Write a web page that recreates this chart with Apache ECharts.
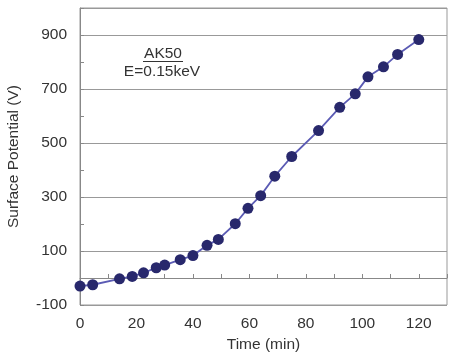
<!DOCTYPE html>
<html>
<head>
<meta charset="utf-8">
<script src="https://cdn.jsdelivr.net/npm/echarts@6/dist/echarts.min.js"></script>
<style>html,body{margin:0;padding:0;background:#fff;}#c{width:449px;height:359px;}</style>
</head>
<body>
<div id="c"></div>
<script>
var times = [0, 4.5, 14, 18.5, 22.5, 27, 30, 35.5, 40, 45, 49, 55, 59.5, 64, 69, 75, 84.5, 92, 97.5, 102, 107.5, 112.5, 120];
var potentials = [-30, -25, -3, 6, 19, 38, 48, 68, 83, 121, 143, 201, 258, 305, 377, 450, 546, 632, 682, 745, 782, 828, 883];
var xTitle = 'Time (min)';
var yTitle = 'Surface Potential (V)';
var sampleName = 'AK50';
var energyLabel = 'E=0.15keV';

var chart = echarts.init(document.getElementById('c'));
var font = 'Liberation Sans, Arial, sans-serif';
var fs = 15.5;
chart.setOption({
  animation: false,
  grid: {left: 80, right: 2, top: 8, bottom: 54, show: true, borderColor: '#999', borderWidth: 1,
    backgroundColor: 'transparent', outerBoundsMode: 'none', containLabel: false},
  xAxis: {
    type: 'value', min: 0, max: 130, interval: 20,
    name: xTitle, nameLocation: 'middle', nameGap: 32,
    nameTextStyle: {fontFamily: font, fontSize: fs, color: '#333'},
    axisLine: {show: true, lineStyle: {color: '#888'}},
    axisTick: {show: true, inside: true, length: 4, lineStyle: {color: '#888'}},
    minorTick: {show: true, splitNumber: 2, length: 4, lineStyle: {color: '#888'}},
    splitLine: {show: false},
    axisLabel: {fontFamily: font, fontSize: fs, color: '#333', margin: 11,
      formatter: function (v) { return v > 120 ? '' : v; }}
  },
  yAxis: {
    type: 'value', min: -100, max: 1000, interval: 200,
    name: yTitle, nameLocation: 'middle', nameGap: 58, nameRotate: 90,
    nameTextStyle: {fontFamily: font, fontSize: fs, color: '#333'},
    axisLine: {show: true, lineStyle: {color: '#888'}},
    axisTick: {show: true, inside: true, length: 4, lineStyle: {color: '#888'}},
    minorTick: {show: true, splitNumber: 2, length: 4, lineStyle: {color: '#888'}},
    splitLine: {show: true, lineStyle: {color: '#999', width: 1}},
    axisLabel: {fontFamily: font, fontSize: fs, color: '#333', margin: 13,
      formatter: function (v) { return v > 900 ? '' : v; }}
  },
  series: [{
    type: 'line',
    data: times.map(function (t, i) { return [t, potentials[i]]; }),
    symbol: 'circle', symbolSize: 11,
    lineStyle: {color: '#5b5bb4', width: 1.8},
    itemStyle: {color: '#28286c'}
  }],
  graphic: [
    {type: 'text', x: 163, y: 46, style: {text: sampleName, font: fs + 'px ' + font, fill: '#333', align: 'center'}},
    {type: 'line', shape: {x1: 143, y1: 61.5, x2: 183, y2: 61.5}, style: {stroke: '#333', lineWidth: 1}},
    {type: 'text', x: 162, y: 64, style: {text: energyLabel, font: fs + 'px ' + font, fill: '#333', align: 'center'}}
  ]
});
</script>
</body>
</html>
